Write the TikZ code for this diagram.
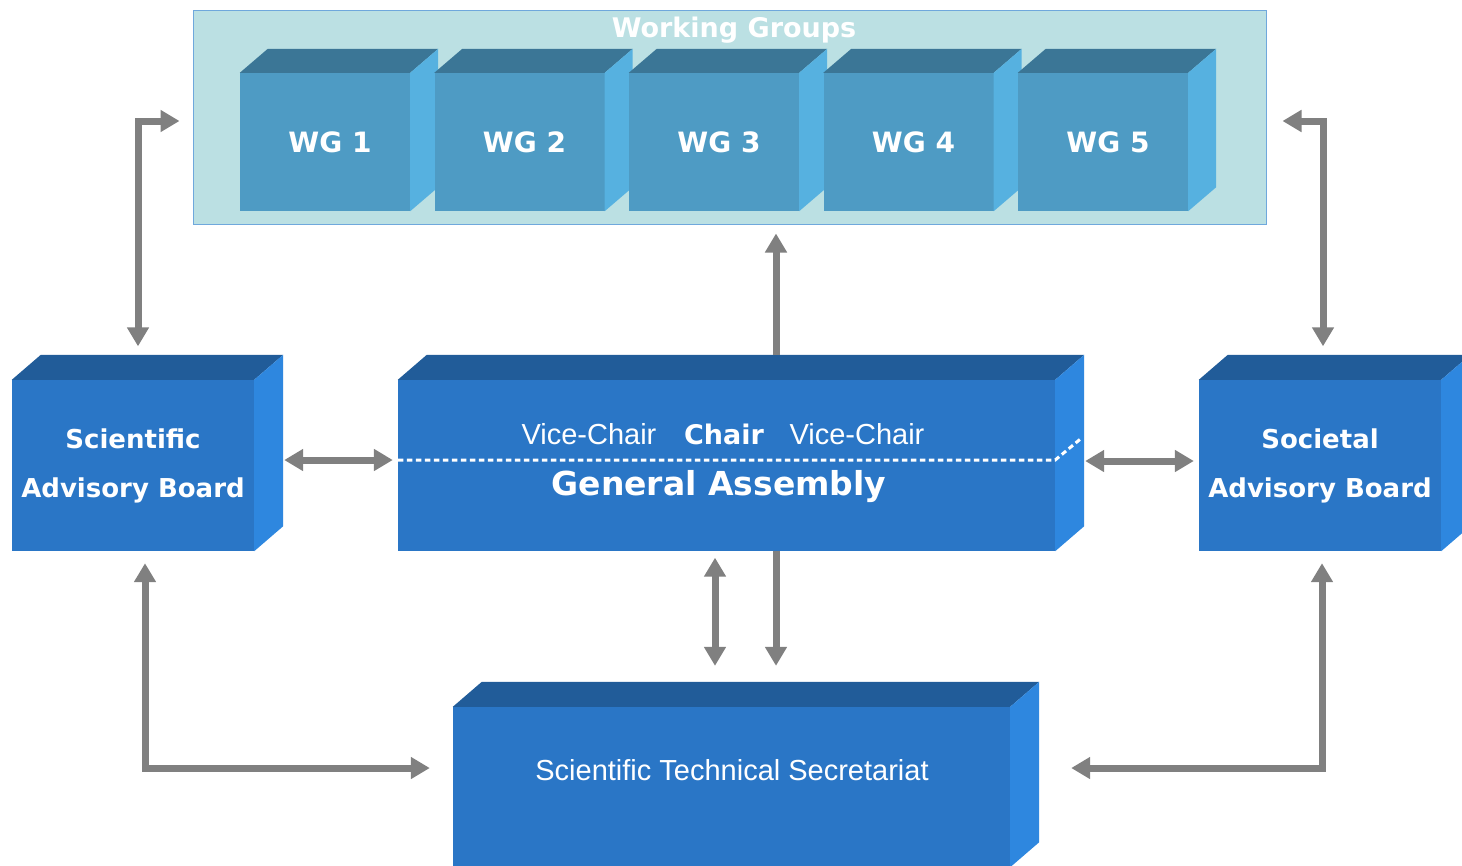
\documentclass[tikz,border=0pt]{standalone}
\usepackage{fontspec}
\setmainfont{DejaVu Sans}
\newfontfamily\arialf{Liberation Sans}
\usetikzlibrary{arrows.meta,calc}
\definecolor{gaFront}{HTML}{2A76C6}
\definecolor{gaTop}{HTML}{215C99}
\definecolor{gaSide}{HTML}{2E87DF}
\definecolor{wgFront}{HTML}{4E9BC4}
\definecolor{wgTop}{HTML}{3B7696}
\definecolor{wgSide}{HTML}{56B1E0}
\definecolor{wgBack}{HTML}{BBE0E3}
\definecolor{wgEdge}{HTML}{6FA8DC}
\definecolor{arrGray}{HTML}{808080}
\newcommand\cubefaces[5]{%
  \fill[#4] (#1.north west) -- ([shift={(#2,-#3)}]#1.north west) -- ([shift={(#2,-#3)}]#1.north east) -- (#1.north east) -- cycle;
  \fill[#5] (#1.north east) -- ([shift={(#2,-#3)}]#1.north east) -- ([shift={(#2,-#3)}]#1.south east) -- (#1.south east) -- cycle;
}
\tikzset{
  wgcont/.style={draw=wgEdge, fill=wgBack, line width=1pt, minimum width=1073pt, minimum height=214pt, inner sep=0pt},
  wgtitle/.style={text=white, font=\bfseries\fontsize{27}{32}\selectfont, inner sep=0pt},
  wgbox/.style={fill=wgFront, minimum width=170pt, minimum height=138pt, inner sep=0pt},
  wglabel/.style={text=white, inner sep=0pt, xshift=5pt, font=\bfseries\fontsize{28}{32}\selectfont},
  bigbox/.style={fill=gaFront, inner sep=0pt, text=white},
  advbox/.style={bigbox, minimum width=242pt, minimum height=171pt, align=center, font=\bfseries\fontsize{26}{49}\selectfont},
  regtext/.style={text=white, inner sep=0pt, font=\arialf\fontsize{29}{34}\selectfont},
  boldtext/.style={text=white, inner sep=0pt, font=\bfseries\fontsize{27}{32}\selectfont},
  gatitle/.style={text=white, inner sep=0pt, font=\bfseries\fontsize{33}{38}\selectfont},
  arr/.style={draw=arrGray, line width=7pt},
  >={Triangle[width=21pt,length=19pt]}
}
\begin{document}
\begin{tikzpicture}[x=1pt,y=-1pt]
\useasboundingbox (0,0) rectangle (1462,865);
\clip (0,0) rectangle (1462,865);
\fill[white] (0,0) rectangle (1462,865);

% Working groups container
\node[wgcont] (wgc) at (729.5,117) {};
\foreach \i in {1,...,5}{
  \node[wgbox, label={[wglabel]center:WG \i}] (wg\i) at ({325+194.5*(\i-1)},142) {};
  \cubefaces{wg\i}{28}{24}{wgTop}{wgSide}
}
\node[wgtitle, anchor=base] (wgt) at (734,37) {Working Groups};

% Scientific Advisory Board
\node[advbox] (sab) at (133,465.5) {Scientific\\Advisory Board};
\cubefaces{sab}{29}{25}{gaTop}{gaSide}

% General Assembly
\node[bigbox, minimum width=657pt, minimum height=171pt] (ga) at (726.5,465.5) {};
\cubefaces{ga}{29}{25}{gaTop}{gaSide}
\draw[white, line width=3pt, dash pattern=on 5.5pt off 3.5pt]
  ([yshift=5.5pt]ga.west) -- ([yshift=5.5pt]ga.east) -- ([xshift=27pt,yshift=28pt]ga.east);
\node[regtext, anchor=base] (vc1) at (589,444) {Vice-Chair};
\node[boldtext, anchor=base] (chair) at (724,444) {Chair};
\node[regtext, anchor=base] (vc2) at (857,444) {Vice-Chair};
\node[gatitle, anchor=base] (gat) at (719,495) {General Assembly};

% Societal Advisory Board
\node[advbox] (socab) at (1320,465.5) {Societal\\Advisory Board};
\cubefaces{socab}{29}{25}{gaTop}{gaSide}

% Secretariat
\node[bigbox, minimum width=557pt, minimum height=160pt] (sts) at (731.5,787) {};
\cubefaces{sts}{29}{25}{gaTop}{gaSide}
\node[regtext, anchor=base] (ststxt) at (732,780) {Scientific Technical Secretariat};

% Arrows
\coordinate (wgb) at ([yshift=-9pt]wgc.south);
\coordinate (gatop) at ([xshift=49.5pt,yshift=25pt]ga.north);
\draw[arr,<->] ([xshift=5pt,yshift=33.5pt]sab.north) |- ([xshift=-13pt,yshift=-4pt]wgc.west);
\draw[arr,<->] ([xshift=3pt,yshift=33.5pt]socab.north) |- ([xshift=16pt,yshift=-4pt]wgc.east);
\draw[arr,->] (gatop) -- (gatop |- wgb);
\draw[arr,<->] ([xshift=30pt,yshift=5.5pt]sab.east) -- ([xshift=-5pt,yshift=5.5pt]ga.west);
\draw[arr,<->] ([xshift=30pt,yshift=4.5pt]ga.east) -- ([xshift=-5pt,yshift=4.5pt]socab.west);
\draw[arr,<->] ([xshift=-11.5pt,yshift=-6.5pt]ga.south) -- ([xshift=-16.5pt,yshift=41pt]sts.north);
\draw[arr,->] ([xshift=49.5pt]ga.south) -- ([xshift=44.5pt,yshift=41pt]sts.north);
\draw[arr,<->] ([xshift=12pt,yshift=-12pt]sab.south) |- ([xshift=-23pt,yshift=19pt]sts.west);
\draw[arr,<->] ([xshift=2pt,yshift=-12pt]socab.south) |- ([xshift=61pt,yshift=19pt]sts.east);
\end{tikzpicture}
\end{document}
